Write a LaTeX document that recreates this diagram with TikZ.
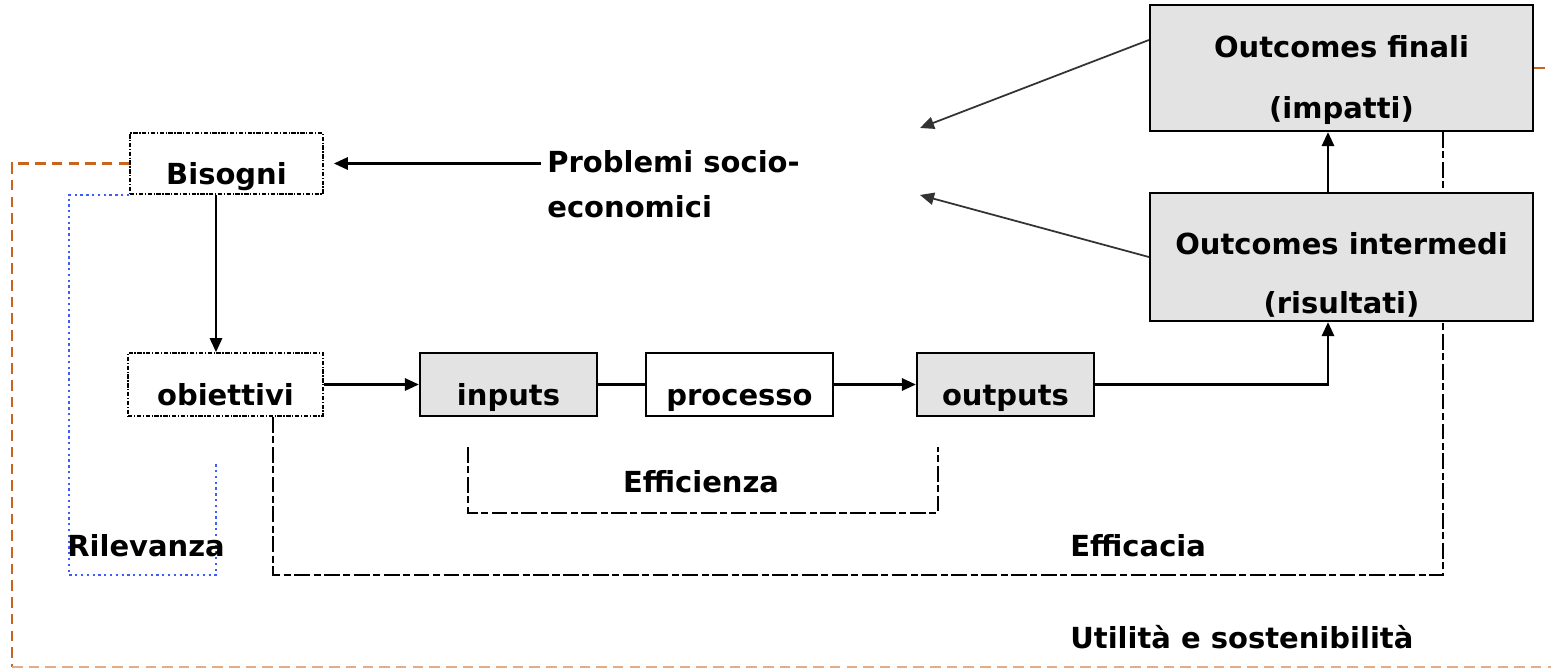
\documentclass[tikz,border=0pt]{standalone}
\usepackage{fontspec}
\setmainfont{DejaVu Sans}
\usetikzlibrary{arrows.meta}

\definecolor{boxgrey}{HTML}{E3E3E3}
\definecolor{rust}{HTML}{C8641E}
\definecolor{lightrust}{HTML}{E2AC84}
\definecolor{relblue}{HTML}{3C5CFF}

\begin{document}
\begin{tikzpicture}[x=0.02cm,y=-0.02cm,>={Triangle[length=8pt,width=7pt]},
    font=\fontsize{16.5}{19.5}\selectfont\bfseries,
    box/.style={draw,line width=1.3pt,minimum height=1.26cm,text height=0.86cm,text depth=0pt,inner sep=0pt},
    greybox/.style={box,fill=boxgrey},
    dotbox/.style={box,line width=1pt,dash pattern=on 2.5pt off 0.9pt on 0.7pt off 0.9pt},
    outcome/.style={draw,line width=1.3pt,fill=boxgrey,align=center,minimum width=7.66cm,inner sep=0pt},
    flow/.style={->,line width=1.3pt},
    thinflow/.style={->,line width=1pt,draw=black!80},
    effic/.style={line width=1.3pt,dash pattern=on 9pt off 2pt on 4pt off 2pt},
    relev/.style={relblue,line width=1.3pt,dotted},
    utile/.style={rust,line width=1.3pt,dash pattern=on 6pt off 3.5pt}]
    \useasboundingbox (0,0) rectangle (1551,669);

    % Outcomes
    \node[outcome,minimum height=2.52cm] (fin) at (1341.5,68) {\rule{0pt}{0.92cm}Outcomes finali\\[15pt](impatti)};
    \node[outcome,minimum height=2.56cm] (int) at (1341.5,257) {\rule{0pt}{1.15cm}Outcomes intermedi\\[14pt](risultati)};

    % Chain
    \node[dotbox,minimum width=3.86cm,minimum height=1.22cm] (bis) at (226.5,163.5) {Bisogni};
    \node[dotbox,minimum width=3.9cm] (obi) at (225.5,384.5) {obiettivi};
    \node[greybox,minimum width=3.54cm] (inp) at (508.5,384.5) {inputs};
    \node[box,minimum width=3.74cm] (pro) at (739.5,384.5) {processo};
    \node[greybox,minimum width=3.54cm] (out) at (1005.5,384.5) {outputs};

    \node[anchor=north west,align=left,inner sep=0.12cm] (prob) at (541,144) {Problemi socio-\\[6pt]economici};

    % Arrows
    \draw[flow,shorten >=0.2cm] (bis.east -| prob.west) -- (bis.east);
    \draw[flow] ([xshift=-0.21cm]bis.south) -- ([xshift=-0.21cm]bis.south |- obi.north);
    \draw[flow] (obi.east) -- (inp.west);
    \draw[line width=1.3pt] (inp.east) -- (pro.west);
    \draw[flow] (pro.east) -- (out.west);
    \draw[flow] (out.east) -| ([xshift=-0.27cm]int.south);
    \draw[flow] ([xshift=-0.27cm]int.north) -- ([xshift=-0.27cm]fin.south);

    \coordinate (pa) at (920,128);
    \coordinate (pb) at (920,195);
    \draw[thinflow] ([yshift=0.56cm]fin.west) -- (pa);
    \draw[thinflow] (int.west) -- (pb);

    % Efficienza
    \coordinate (effA) at (468,447);
    \coordinate (effB) at (938,447);
    \draw[effic] (effA) -- ++(0,66) -| (effB);
    \node[anchor=base,inner sep=0pt] (effz) at (701,492) {Efficienza};

    % Efficacia
    \draw[effic] ([xshift=0.95cm]obi.south) -- ++(0,158) -| ([xshift=2.03cm]int.south);
    \draw[effic] ([xshift=2.03cm]fin.south) -- ([xshift=2.03cm]int.north);
    \node[anchor=base west,inner sep=0pt] (effc) at (1070,556) {Efficacia};

    % Rilevanza
    \draw[relev] (bis.south west) -| (69,575) -| (216,464);
    \node[anchor=base west,inner sep=0pt] (rilev) at (67,556) {Rilevanza};

    % Utilita e sostenibilita
    \draw[utile] (bis.west) -| (12,667);
    \draw[utile,lightrust] (12,667) -- (1551,667);
    \draw[utile] (fin.east) -- (1551,68);
    \node[anchor=base west,inner sep=0pt] (util) at (1070,648) {Utilità e sostenibilità};
\end{tikzpicture}
\end{document}
